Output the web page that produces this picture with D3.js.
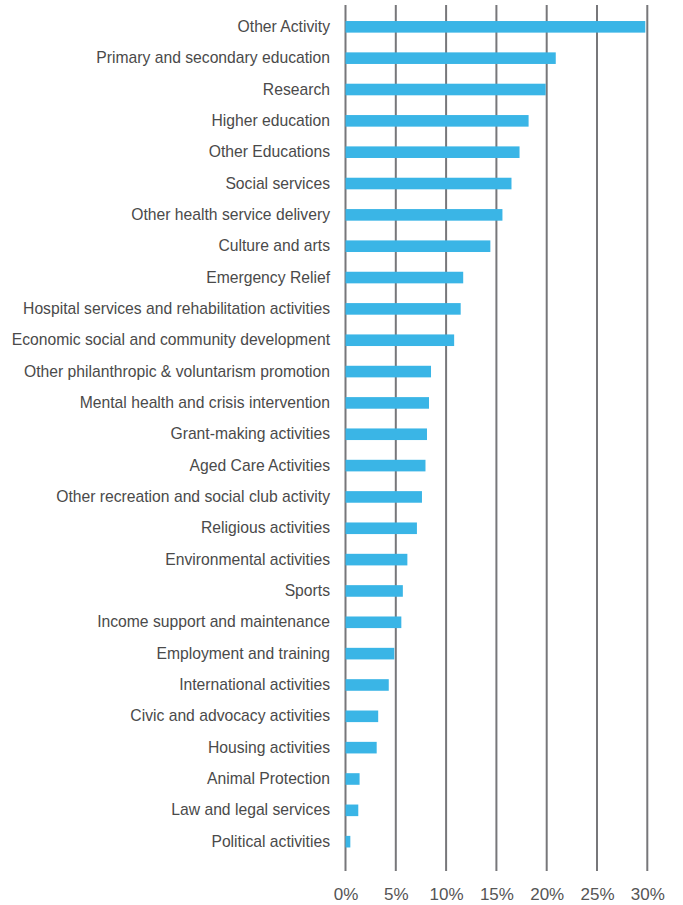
<!DOCTYPE html>
<html><head><meta charset="utf-8">
<script src="https://cdn.jsdelivr.net/npm/d3@7"></script>
<style>
body{margin:0;background:#fff;}
svg{display:block;}
</style></head>
<body><svg id="chart" width="683" height="905"></svg>
<script>
const categories = [
  "Other Activity","Primary and secondary education","Research","Higher education",
  "Other Educations","Social services","Other health service delivery","Culture and arts",
  "Emergency Relief","Hospital services and rehabilitation activities",
  "Economic social and community development","Other philanthropic & voluntarism promotion",
  "Mental health and crisis intervention","Grant-making activities","Aged Care Activities",
  "Other recreation and social club activity","Religious activities","Environmental activities",
  "Sports","Income support and maintenance","Employment and training","International activities",
  "Civic and advocacy activities","Housing activities","Animal Protection",
  "Law and legal services","Political activities"
];
const values = [
  29.8, 20.9, 19.9, 18.2, 17.3, 16.5, 15.6, 14.4, 11.7, 11.45, 10.8, 8.5, 8.3, 8.1, 7.95,
  7.6, 7.1, 6.15, 5.7, 5.55, 4.85, 4.3, 3.25, 3.1, 1.4, 1.27, 0.48
];
const tickValues = [0, 5, 10, 15, 20, 25, 30];

const svg = d3.select("#chart");
const x = d3.scaleLinear().domain([0, 30]).range([345.5, 647.3]);
const y = d3.scaleBand().domain(categories).range([11, 857.5]).paddingInner(0.63).paddingOuter(0.32);

// gridlines
svg.append("g").selectAll("line").data(tickValues).join("line")
  .attr("x1", d => x(d)).attr("x2", d => x(d))
  .attr("y1", 5).attr("y2", 871)
  .attr("stroke", "#77777a").attr("stroke-width", 2);

// bars
svg.append("g").selectAll("rect").data(values).join("rect")
  .attr("x", x(0))
  .attr("y", (d, i) => y(categories[i]))
  .attr("width", d => x(d) - x(0))
  .attr("height", y.bandwidth())
  .attr("fill", "#3AB5E6");

// category labels
const yAxis = d3.axisLeft(y).tickSize(0).tickPadding(0);
const gy = svg.append("g").attr("transform", "translate(330,0)").call(yAxis);
gy.select(".domain").remove();
gy.selectAll("text")
  .attr("font-family", "'Liberation Sans', Arial, sans-serif")
  .attr("font-size", 15.7).attr("fill", "#4a4a4a");

// x tick labels
const xAxis = d3.axisBottom(x).tickValues(tickValues).tickFormat(d => d + "%").tickSize(0).tickPadding(0);
const gx = svg.append("g").attr("transform", "translate(0,888)").call(xAxis);
gx.select(".domain").remove();
gx.selectAll("text")
  .attr("font-family", "'Liberation Sans', Arial, sans-serif")
  .attr("font-size", 17).attr("fill", "#555");
</script>
</body></html>
